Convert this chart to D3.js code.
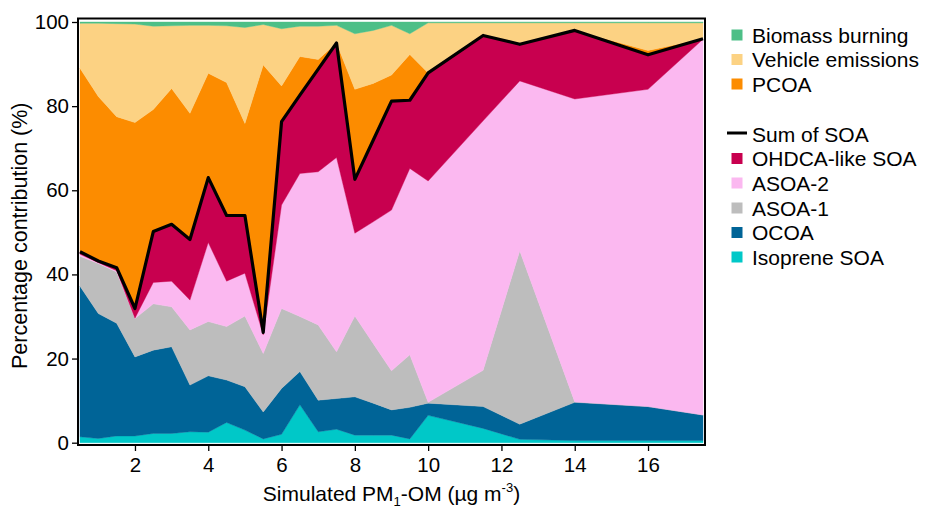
<!DOCTYPE html>
<html>
<head>
<meta charset="utf-8">
<script src="https://cdn.jsdelivr.net/npm/d3@7"></script>
<style>
  html, body { margin: 0; padding: 0; background: #fff; }
  svg { display: block; font-family: "Liberation Sans", Arial, sans-serif; }
</style>
</head>
<body>
<svg id="chart" width="927" height="510"></svg>
<script>
// Simulated PM1-OM concentration (µg m-3)
const omBins = [0.5, 1, 1.5, 2, 2.5, 3, 3.5, 4, 4.5, 5, 5.5, 6, 6.5, 7, 7.5,
                8, 8.5, 9, 9.5, 10, 11.5, 12.5, 14, 16, 17.5];

// Factor contributions (%) per bin, stacked bottom to top
const isopreneSOA = [1.4, 1.0, 1.6, 1.6, 2.2, 2.2, 2.6, 2.5, 4.8, 3.0, 0.9, 2.0, 9.0, 2.6, 3.2,
                     1.8, 1.8, 1.8, 0.9, 6.5, 3.4, 0.8, 0.5, 0.5, 0.5];
const ocoa        = [35.8, 29.7, 26.8, 18.8, 19.8, 20.6, 11.1, 13.4, 10.1, 10.3, 6.4, 10.9, 7.9, 7.5, 7.3,
                     9.1, 7.6, 6.0, 7.5, 2.9, 5.2, 3.6, 9.1, 8.1, 6.1];
const asoa1       = [7.1, 11.9, 12.2, 9.1, 11.0, 9.5, 13.1, 12.9, 12.7, 16.8, 13.9, 19.0, 13.1, 17.9, 11.1,
                     19.2, 14.2, 9.3, 12.5, 0.2, 8.6, 41.2, 0.1, 0, 0];
const asoa2       = [0.5, 0.2, 0.3, 0.1, 5.1, 6.1, 7.1, 18.8, 10.8, 10.2, 4.4, 24.6, 34.0, 36.4, 46.2,
                     19.7, 28.9, 38.2, 44.3, 52.6, 59.3, 40.4, 72.0, 75.4, 89.3];
const ohdcaSOA    = [0.6, 0.4, 0.7, 2.3, 12.1, 13.5, 14.4, 15.4, 15.6, 13.7, 0.6, 19.8, 18.6, 24.4, 27.2,
                     12.8, 19.4, 25.9, 16.2, 25.7, 20.3, 8.7, 16.3, 8.2, 0.1];
const pcoa        = [43.6, 39.1, 35.9, 44.2, 29.0, 32.3, 30.0, 24.8, 31.6, 21.9, 63.6, 8.5, 9.2, 2.3, 0,
                     21.4, 13.5, 6.2, 10.9, 0, 0, 0, 0, 1.0, 0];
const vehicle     = [10.7, 17.4, 22.1, 23.4, 19.8, 14.9, 20.9, 11.4, 13.5, 22.8, 9.6, 13.6, 7.2, 7.9, 4.2,
                     13.2, 12.6, 11.8, 4.9, 11.9, 3.0, 5.1, 1.8, 6.6, 3.8];
const biomass     = [0.3, 0.3, 0.4, 0.5, 1.0, 0.9, 0.8, 0.8, 0.9, 1.3, 0.6, 1.6, 1.0, 1.0, 0.8,
                     2.8, 2.0, 0.8, 2.8, 0.2, 0.2, 0.2, 0.2, 0.2, 0.2];

const xTicks = [2, 4, 6, 8, 10, 12, 14, 16];
const yTicks = [0, 20, 40, 60, 80, 100];

// Series order bottom -> top
const seriesKeys   = ["iso", "ocoa", "asoa1", "asoa2", "ohdca", "pcoa", "veh", "bb"];
const seriesValues = [isopreneSOA, ocoa, asoa1, asoa2, ohdcaSOA, pcoa, vehicle, biomass];
const colors = {
  iso: "#00c8c8", ocoa: "#006497", asoa1: "#bdbdbd", asoa2: "#fbb8f0",
  ohdca: "#c8004f", pcoa: "#fc8c00", veh: "#fcd283", bb: "#4dbf87"
};

const rows = omBins.map((x, i) => {
  const r = { x };
  seriesKeys.forEach((k, j) => { r[k] = seriesValues[j][i]; });
  return r;
});

const svg = d3.select("#chart");
const plot = { left: 80, right: 703, top: 22, bottom: 442.7 };
const frame = { left: 78, right: 705, top: 18.5, bottom: 445 };

const x = d3.scaleLinear().domain([0.5, 17.5]).range([plot.left, plot.right]);
const y = d3.scaleLinear().domain([0, 100]).range([plot.bottom, plot.top]);

const stacked = d3.stack().keys(seriesKeys)(rows);

const area = d3.area()
  .x(d => x(d.data.x))
  .y0(d => y(d[0]))
  .y1(d => y(d[1]));

svg.append("g")
  .selectAll("path")
  .data(stacked)
  .join("path")
  .attr("fill", d => colors[d.key])
  .attr("stroke", d => colors[d.key])
  .attr("stroke-width", 0.4)
  .attr("d", area);

// Sum of SOA: top of the OHDCA-like SOA layer
const soaTop = stacked[seriesKeys.indexOf("ohdca")];
svg.append("path")
  .datum(soaTop)
  .attr("fill", "none")
  .attr("stroke", "#000")
  .attr("stroke-width", 3.2)
  .attr("stroke-linejoin", "round")
  .attr("d", d3.line().x(d => x(d.data.x)).y(d => y(d[1])));

// Frame
svg.append("rect")
  .attr("x", frame.left).attr("y", frame.top)
  .attr("width", frame.right - frame.left)
  .attr("height", frame.bottom - frame.top)
  .attr("fill", "none").attr("stroke", "#000").attr("stroke-width", 2);

// Axes
const xAxis = d3.axisBottom(x).tickValues(xTicks).tickSize(6).tickPadding(6);
const gx = svg.append("g").attr("transform", `translate(0,${frame.bottom})`).call(xAxis);
gx.select(".domain").remove();
gx.selectAll("line").attr("stroke-width", 1.3);
gx.selectAll("text").attr("font-size", 20.5).attr("fill", "#000")
  .attr("font-family", "Liberation Sans, Arial, sans-serif");

const yAxis = d3.axisLeft(y).tickValues(yTicks).tickSize(6).tickPadding(3);
const gy = svg.append("g").attr("transform", `translate(${frame.left},0)`).call(yAxis);
gy.select(".domain").remove();
gy.selectAll("line").attr("stroke-width", 1.3);
gy.selectAll("text").attr("font-size", 20.5).attr("fill", "#000")
  .attr("font-family", "Liberation Sans, Arial, sans-serif");

// Axis titles
const xt = svg.append("text")
  .attr("x", (frame.left + frame.right) / 2).attr("y", 501)
  .attr("text-anchor", "middle").attr("font-size", 21).attr("fill", "#000");
xt.append("tspan").text("Simulated PM");
xt.append("tspan").attr("font-size", 13).attr("dy", 5).text("1");
xt.append("tspan").attr("dy", -5).text("-OM (µg m");
xt.append("tspan").attr("font-size", 13).attr("dy", -9).text("-3");
xt.append("tspan").attr("dy", 9).text(")");

svg.append("text")
  .attr("transform", `translate(27,${(frame.top + frame.bottom) / 2 + 4}) rotate(-90)`)
  .attr("text-anchor", "middle").attr("font-size", 21.5).attr("fill", "#000")
  .text("Percentage contribution (%)");

// Legend
const legendItems = [
  { label: "Biomass burning", key: "bb", y: 35 },
  { label: "Vehicle emissions", key: "veh", y: 59.5 },
  { label: "PCOA", key: "pcoa", y: 84 },
  { label: "Sum of SOA", key: null, y: 134 },
  { label: "OHDCA-like SOA", key: "ohdca", y: 158.5 },
  { label: "ASOA-2", key: "asoa2", y: 183 },
  { label: "ASOA-1", key: "asoa1", y: 208 },
  { label: "OCOA", key: "ocoa", y: 232.5 },
  { label: "Isoprene SOA", key: "iso", y: 257 }
];
const lg = svg.append("g");
legendItems.forEach(it => {
  if (it.key) {
    lg.append("rect").attr("x", 731.5).attr("y", it.y - 5.5)
      .attr("width", 11).attr("height", 11).attr("fill", colors[it.key]);
  } else {
    lg.append("line").attr("x1", 727).attr("x2", 747)
      .attr("y1", it.y - 1).attr("y2", it.y - 1)
      .attr("stroke", "#000").attr("stroke-width", 3);
  }
  lg.append("text").attr("x", 752).attr("y", it.y + 7.5)
    .attr("font-size", 21).attr("fill", "#000").text(it.label);
});
</script>
</body>
</html>
